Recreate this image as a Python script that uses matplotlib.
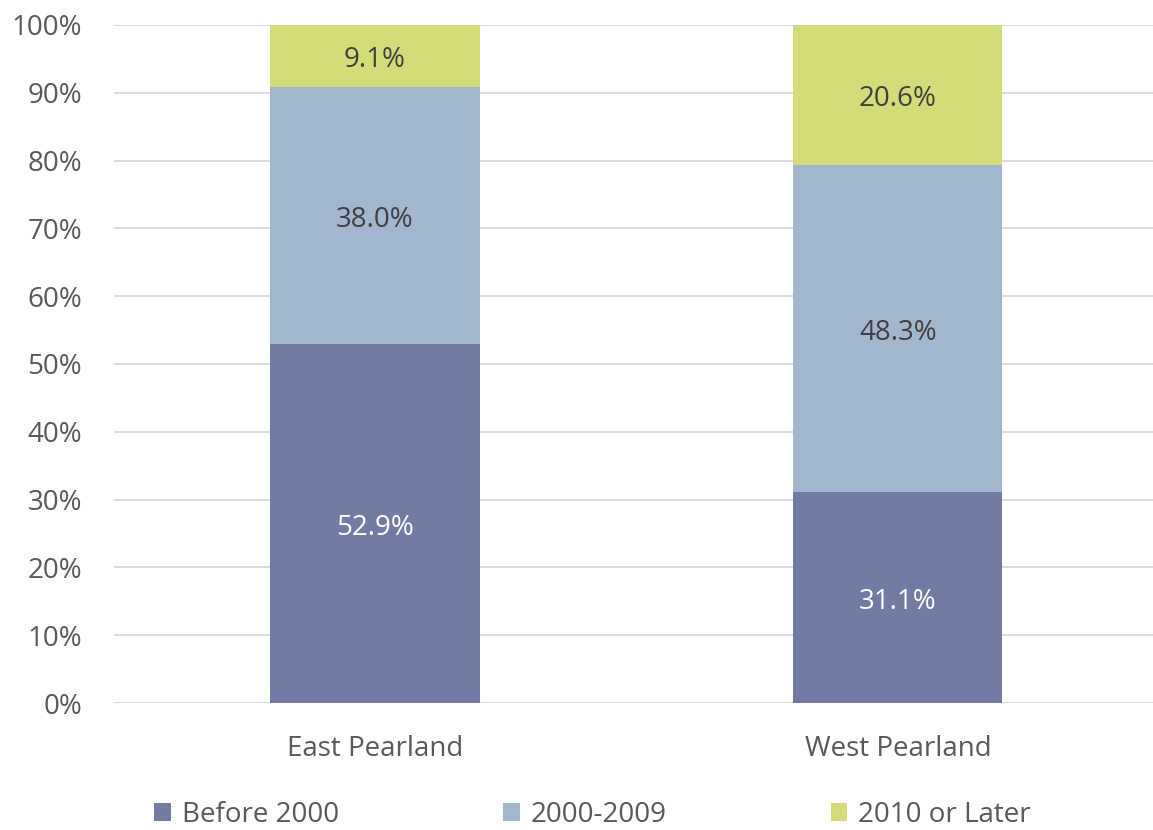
import matplotlib.pyplot as plt
from matplotlib.ticker import PercentFormatter
import numpy as np

plt.rcParams['font.family'] = ['Open Sans', 'DejaVu Sans']

areas = ['East Pearland', 'West Pearland']
series = ['Before 2000', '2000-2009', '2010 or Later']
before_2000 = [52.9, 31.1]
y2000_2009 = [38.0, 48.3]
y2010_later = [9.1, 20.6]

colors = ['#717BA3', '#A2B7CE', '#D4DC7A']
label_colors = ['white', '#404040', '#404040']

fig = plt.figure(figsize=(11.53, 8.3), dpi=100)
ax = fig.add_axes([114 / 1153, 0.153, 1 - 114 / 1153, 0.817])

x = np.arange(len(areas))
bottom = np.zeros(len(areas))
for vals, name, c, lc in zip([before_2000, y2000_2009, y2010_later], series, colors, label_colors):
    vals = np.array(vals)
    ax.bar(x, vals, width=0.4, bottom=bottom, color=c, label=name, zorder=3)
    for xi, b, v in zip(x, bottom, vals):
        ax.annotate(f'{v:.1f}%', (xi, b + v / 2), xytext=(0, -3), textcoords='offset points',
                    ha='center', va='center', fontsize=20, color=lc, zorder=4)
    bottom += vals

ax.set_ylim(0, 100)
ax.set_xlim(-0.499, 1.488)
ax.set_yticks(np.arange(0, 101, 10))
ax.yaxis.set_major_formatter(PercentFormatter(decimals=0))
ax.set_xticks(x)
ax.set_xticklabels(areas)
ax.grid(axis='y', color='#D9D9D9', linewidth=1.3, zorder=0)
for s in ax.spines.values():
    s.set_visible(False)
ax.tick_params(length=0, labelsize=20, colors='#595959')
ax.tick_params(axis='x', pad=23)
ax.tick_params(axis='y', pad=23)

fig.legend(loc='center', bbox_to_anchor=(0.514, 0.018), ncol=3, frameon=False,
           fontsize=20, labelcolor='#595959', handlelength=0.6, handleheight=0.6,
           handletextpad=0.4, columnspacing=5.9)

fig.savefig('out.png', dpi=100)
